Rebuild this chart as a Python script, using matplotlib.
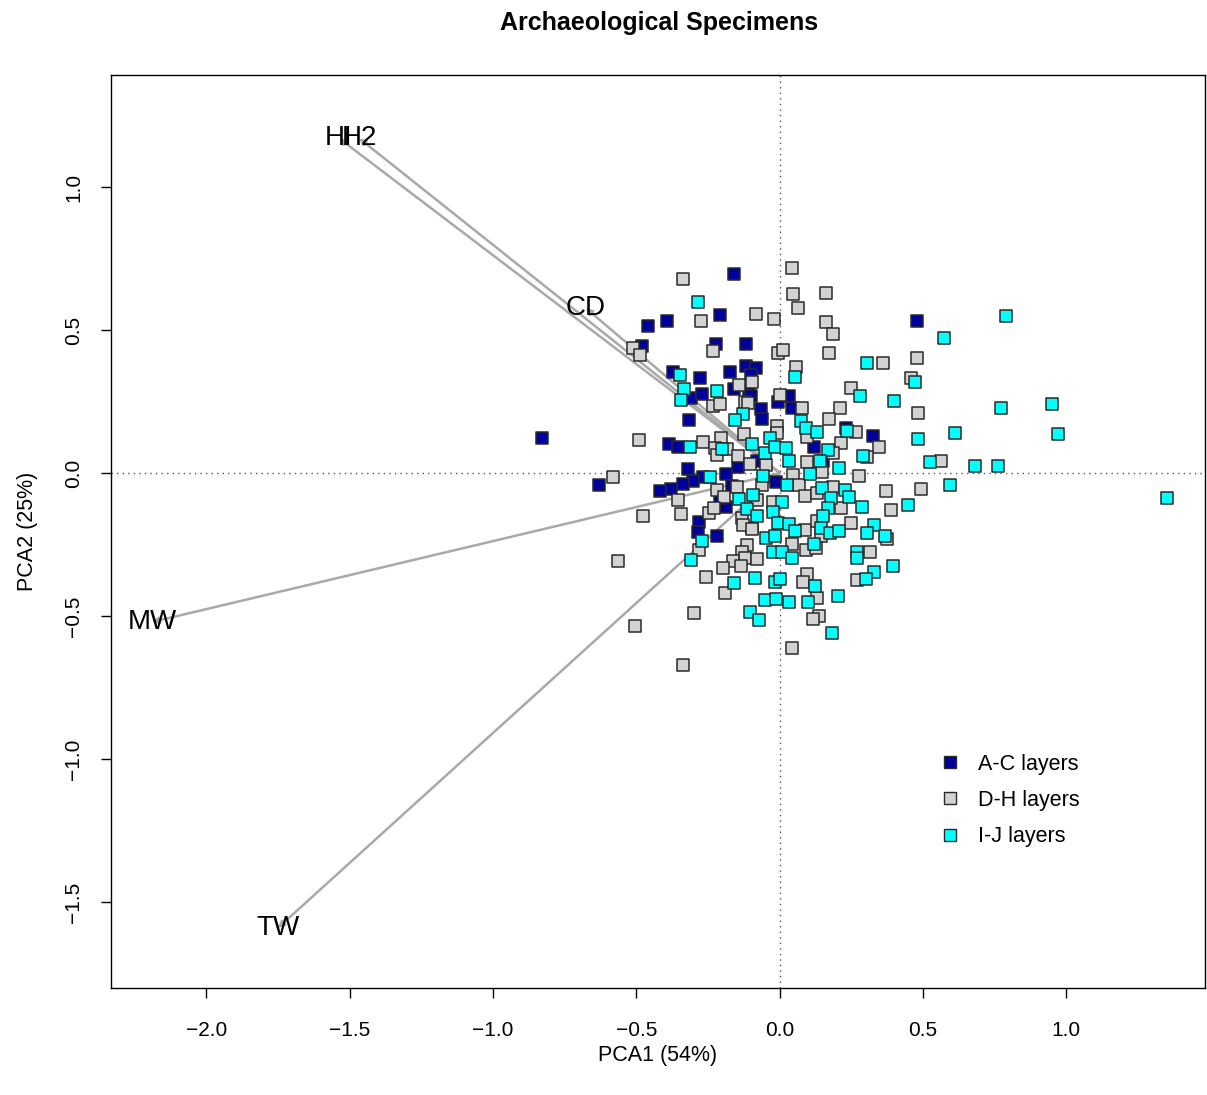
import matplotlib
matplotlib.use("Agg")
import matplotlib.pyplot as plt
from matplotlib.lines import Line2D

plt.rcParams['font.family'] = ['Liberation Sans', 'DejaVu Sans']

title = "Archaeological Specimens"
xlabel = "PCA1 (54%)"
ylabel = "PCA2 (25%)"
group_names = ["A-C layers", "D-H layers", "I-J layers"]
group_colors = ["#00009C", "#D3D3D3", "#00FFFF"]

# loadings (arrow tips)
var_names = ["HI", "H2", "CD", "MW", "TW"]
var_x = [-1.538, -1.468, -0.677, -2.190, -1.751]
var_y = [1.171, 1.171, 0.577, -0.521, -1.591]

# scores, A-C layers
ac_x = [-0.830, -0.160, -0.209, -0.460, -0.394, -0.481, -0.223, -0.119, -0.373, -0.279,
        -0.174, -0.119, -0.084, -0.101, -0.310, -0.272, -0.160, -0.108, -0.101, -0.317,
        -0.066, -0.063, -0.387, -0.356, -0.321, -0.269, -0.188, -0.146, -0.080, -0.303,
        -0.338, -0.380, -0.419, -0.631, -0.014, -0.167, -0.188, -0.283, -0.286, -0.220,
        -0.209, -0.098, 0.031, -0.007, 0.042, 0.230, 0.324, 0.119, 0.150, 0.478]
ac_y = [0.122, 0.696, 0.552, 0.514, 0.531, 0.444, 0.451, 0.451, 0.353, 0.332,
        0.353, 0.374, 0.367, 0.343, 0.262, 0.276, 0.294, 0.287, 0.269, 0.185,
        0.224, 0.189, 0.101, 0.091, 0.014, -0.014, -0.003, 0.021, 0.042, -0.028,
        -0.038, -0.056, -0.063, -0.042, -0.031, -0.045, -0.119, -0.171, -0.206, -0.220,
        -0.087, -0.192, 0.269, 0.248, 0.227, 0.157, 0.129, 0.091, 0.042, 0.531]

# scores, D-H layers
dh_x = [-0.338, 0.042, 0.045, 0.160, 0.063, -0.084, -0.021, -0.276, 0.160, 0.185,
        -0.513, -0.488, -0.234, -0.007, 0.010, 0.171, 0.359, 0.478, 0.457, 0.056,
        -0.143, -0.098, 0.248, -0.234, -0.209, -0.122, -0.112, 0.000, 0.077, 0.209,
        0.481, 0.171, -0.010, 0.265, -0.010, -0.126, 0.094, -0.492, -0.269, -0.206,
        0.213, 0.345, -0.227, -0.220, -0.185, -0.146, 0.185, 0.562, -0.105, -0.049,
        0.094, 0.303, 0.146, 0.276, 0.045, -0.582, 0.066, 0.185, -0.150, -0.063,
        -0.220, -0.195, -0.356, -0.478, -0.345, -0.248, -0.230, -0.080, -0.024, 0.087,
        0.129, 0.370, 0.492, 0.387, 0.213, -0.133, -0.129, -0.098, 0.248, 0.087,
        0.129, 0.143, -0.115, -0.133, -0.122, -0.164, -0.199, -0.136, -0.080, 0.042,
        0.091, 0.126, 0.314, 0.373, -0.283, -0.565, -0.258, -0.192, 0.094, 0.080,
        0.269, 0.129, -0.300, 0.136, 0.115, -0.506, -0.338, 0.042]
dh_y = [0.678, 0.717, 0.626, 0.629, 0.577, 0.556, 0.538, 0.531, 0.528, 0.486,
        0.437, 0.413, 0.427, 0.420, 0.430, 0.420, 0.385, 0.402, 0.332, 0.371,
        0.308, 0.318, 0.297, 0.234, 0.241, 0.248, 0.245, 0.273, 0.227, 0.227,
        0.210, 0.189, 0.164, 0.143, 0.140, 0.136, 0.126, 0.115, 0.108, 0.122,
        0.105, 0.091, 0.087, 0.063, 0.084, 0.059, 0.070, 0.042, 0.031, 0.028,
        0.038, 0.056, 0.003, -0.010, -0.007, -0.014, -0.042, -0.049, -0.049, -0.042,
        -0.059, -0.084, -0.094, -0.150, -0.143, -0.140, -0.122, -0.094, -0.101, -0.080,
        -0.070, -0.063, -0.056, -0.129, -0.122, -0.157, -0.182, -0.196, -0.175, -0.199,
        -0.168, -0.220, -0.252, -0.276, -0.297, -0.308, -0.332, -0.325, -0.301, -0.248,
        -0.269, -0.262, -0.276, -0.231, -0.269, -0.308, -0.364, -0.420, -0.353, -0.381,
        -0.374, -0.437, -0.490, -0.500, -0.510, -0.535, -0.671, -0.612]

# scores, I-J layers
ij_x = [-0.286, 0.788, 0.572, 0.303, -0.349, -0.335, -0.345, -0.220, -0.129, -0.157,
        0.052, 0.471, 0.279, 0.398, 0.771, 0.949, 0.970, 0.610, 0.481, 0.073,
        0.091, 0.129, 0.234, -0.035, -0.314, -0.202, -0.098, -0.052, -0.017, 0.021,
        0.167, 0.290, 0.523, 0.680, 0.760, 0.031, 0.140, 0.206, -0.244, -0.059,
        0.105, 0.024, 0.146, 0.227, 0.241, 0.178, 0.593, 1.350, 0.446, -0.143,
        -0.094, -0.115, -0.080, 0.007, -0.024, 0.167, 0.286, 0.150, -0.007, 0.031,
        0.052, 0.143, 0.174, 0.206, 0.328, 0.303, 0.366, -0.049, -0.017, -0.272,
        -0.310, 0.119, -0.024, 0.007, 0.042, 0.269, 0.269, 0.394, 0.328, 0.300,
        -0.017, 0.000, -0.160, -0.087, 0.122, 0.202, -0.052, -0.014, 0.031, 0.098,
        -0.105, -0.073, 0.181]
ij_y = [0.598, 0.549, 0.472, 0.385, 0.343, 0.294, 0.255, 0.287, 0.206, 0.185,
        0.336, 0.318, 0.269, 0.252, 0.227, 0.241, 0.136, 0.140, 0.119, 0.182,
        0.157, 0.143, 0.147, 0.122, 0.091, 0.084, 0.101, 0.070, 0.091, 0.087,
        0.080, 0.059, 0.038, 0.024, 0.024, 0.042, 0.042, 0.017, -0.014, -0.010,
        -0.003, -0.042, -0.052, -0.059, -0.084, -0.087, -0.042, -0.087, -0.112, -0.091,
        -0.077, -0.126, -0.150, -0.101, -0.136, -0.122, -0.119, -0.150, -0.175, -0.178,
        -0.203, -0.192, -0.210, -0.203, -0.182, -0.210, -0.220, -0.227, -0.220, -0.238,
        -0.304, -0.248, -0.276, -0.276, -0.297, -0.276, -0.297, -0.325, -0.346, -0.371,
        -0.381, -0.371, -0.385, -0.367, -0.395, -0.430, -0.444, -0.441, -0.451, -0.451,
        -0.486, -0.514, -0.559]

xticks = [-2.0, -1.5, -1.0, -0.5, 0.0, 0.5, 1.0]
yticks = [-1.5, -1.0, -0.5, 0.0, 0.5, 1.0]

fig = plt.figure(figsize=(12.07, 10.95), dpi=100)
ax = fig.add_axes([0.092, 0.0977, 0.906, 0.8338])
ax.set_xlim(-2.333, 1.482)
ax.set_ylim(-1.801, 1.392)

ax.axhline(0, color='#555555', lw=1.0, ls=(0, (1, 3)), zorder=1)
ax.axvline(0, color='#555555', lw=1.0, ls=(0, (1, 3)), zorder=1)

for nm, vx, vy in zip(var_names, var_x, var_y):
    ax.annotate('', xy=(vx, vy), xytext=(0, 0),
                arrowprops=dict(arrowstyle='-|>', color='#A9A9A9', lw=1.8,
                                shrinkA=0, shrinkB=0, mutation_scale=9),
                zorder=2)

for gx, gy, col, nm in zip([ac_x, dh_x, ij_x], [ac_y, dh_y, ij_y], group_colors, group_names):
    ax.scatter(gx, gy, marker='s', s=66, c=col, edgecolors='#2a2a2a', linewidths=1.1,
               zorder=3, label=nm)

for nm, vx, vy in zip(var_names, var_x, var_y):
    ax.text(vx, vy, nm, ha='center', va='center', fontsize=20, color='black', zorder=4)

ax.set_xticks(xticks)
ax.set_xticklabels([f"{t:.1f}".replace('-', '\u2212') for t in xticks])
ax.set_yticks(yticks)
ax.set_yticklabels([f"{t:.1f}".replace('-', '\u2212') for t in yticks], rotation=90, va='center')
ax.tick_params(direction='out', length=7, width=1, labelsize=15)
ax.tick_params(axis='x', pad=17)
ax.tick_params(axis='y', pad=13)
for sp in ax.spines.values():
    sp.set_linewidth(1.0)

ax.set_xlabel(xlabel, fontsize=15.5, labelpad=3)
ax.set_ylabel(ylabel, fontsize=15.5, labelpad=19)
fig.text(0.546, 0.979, title, ha='center', va='center', fontsize=18, fontweight='bold')

handles = [Line2D([], [], marker='s', ls='none', markersize=8.5, markerfacecolor=c,
                  markeredgecolor='#2a2a2a', markeredgewidth=1.0) for c in group_colors]
ax.legend(handles, group_names, loc='upper left', bbox_to_anchor=(0.7295, 0.278),
          frameon=False, fontsize=15.5, handletextpad=0.31, labelspacing=0.71)

fig.savefig("out.png", dpi=100)
